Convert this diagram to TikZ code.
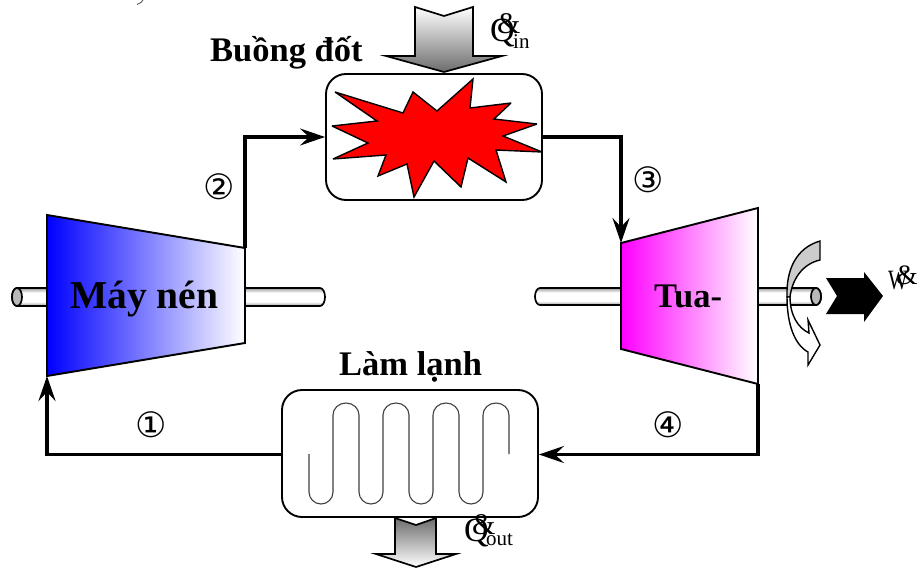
\documentclass[tikz,border=0pt]{standalone}
\usepackage{fontspec}
\setmainfont{Liberation Serif}
\newfontfamily\circfont{DejaVu Sans}
\usetikzlibrary{arrows.meta}
\pgfdeclareverticalshading{shaftshade}{100bp}{color(0bp)=(gray!80); color(25bp)=(gray!80); color(37bp)=(white); color(62bp)=(white); color(75bp)=(gray!80); color(100bp)=(gray!80)}
\tikzset{
  x=1pt,y=-1pt,
  body/.style={draw=black,line width=1.9pt,line join=miter},
  chamber/.style={draw=black,line width=1.9pt,rounded corners=20pt,inner sep=0pt,fill=white},
  flow/.style={draw=black,line width=3.4pt,line join=miter,-{Stealth[length=25pt,width=17pt,inset=9pt]}},
  shaftbar/.style={draw=black,line width=1.7pt,shading=shaftshade},
  shaftend/.style={draw=black,line width=1.7pt,fill=gray!55},
  heatarrow/.style={draw=black,line width=1.7pt,line join=miter},
  title/.style={inner sep=0pt,anchor=base west,font=\bfseries\fontsize{34.5}{40}\selectfont},
  circnum/.style={inner sep=0pt,font=\circfont\fontsize{35}{38}\selectfont},
  bigglyph/.style={inner sep=0pt,anchor=base west,font=\fontsize{34}{36}\selectfont},
  ampglyph/.style={inner sep=0pt,anchor=base west,font=\fontsize{30}{32}\selectfont},
  smallglyph/.style={inner sep=0pt,anchor=base west,font=\fontsize{28}{30}\selectfont},
  subtext/.style={inner sep=0pt,anchor=base west,font=\fontsize{21}{24}\selectfont},
}
\begin{document}
\begin{tikzpicture}
\useasboundingbox (0,0) rectangle (917,567);
% stray mark at the top edge
\draw[line width=0.8pt,black!70] (143,0) -- (141,2.5) -- (137,4.5);

% shafts
\draw[shaftbar] (47,288) -- (17,288) arc[start angle=90,end angle=270,x radius=5pt,y radius=9pt] -- (47,306) -- cycle;
\draw[shaftend] (17,297) ellipse[x radius=5pt,y radius=9pt];
\draw[shaftbar] (245,288) -- (320,288) arc[start angle=90,end angle=-90,x radius=5pt,y radius=9pt] -- (245,306) -- cycle;
\draw[shaftbar] (621,288) -- (540,288) arc[start angle=90,end angle=270,x radius=5pt,y radius=8.5pt] -- (621,305) -- cycle;
\draw[shaftbar] (758,288) -- (816,288) arc[start angle=90,end angle=-90,x radius=5pt,y radius=8.5pt] -- (758,305) -- cycle;
\draw[shaftend] (816,296.5) ellipse[x radius=5pt,y radius=8.5pt];

% compressor and turbine
\coordinate (compTL) at (47,215);
\coordinate (compTR) at (245,248);
\coordinate (compBR) at (245,343);
\coordinate (compBL) at (47,376);
\coordinate (turbTL) at (621,243);
\coordinate (turbTR) at (758,208);
\coordinate (turbBR) at (758,384);
\coordinate (turbBL) at (621,349);
\draw[body,left color=blue,middle color=blue!38,right color=white] (compTL) -- (compTR) -- (compBR) -- (compBL) -- cycle;
\draw[body,left color=magenta,middle color=magenta!20,right color=white] (turbTL) -- (turbTR) -- (turbBR) -- (turbBL) -- cycle;

% chambers
\node[chamber,minimum width=216pt,minimum height=126pt] (burner) at (434,137) {};
\node[chamber,minimum width=256pt,minimum height=127pt] (cooler) at (410,453.5) {};
\coordinate (coolW) at ([yshift=-1pt]cooler.west);
\coordinate (coolE) at ([yshift=-1pt]cooler.east);

% flame
\draw[draw=black,line width=1.4pt,fill=red,line join=miter,miter limit=3]
 (335,92) -- (403,113) -- (413,92) -- (437,111) -- (473,79) -- (470,108) -- (511,103) -- (494,119)
 -- (537,124) -- (503,136) -- (542,152) -- (496,150) -- (506,182) -- (468,158) -- (461,187) -- (434,161)
 -- (414,197) -- (407,164) -- (378,176) -- (386,155) -- (333,159) -- (368,143) -- (332,126) -- (377,121) -- cycle;

% serpentine
\draw[line width=1.1pt,black!75] (309,454) -- (309,492)
 arc[start angle=180,end angle=360,x radius=12pt,y radius=12pt] -- (333,415)
 arc[start angle=180,end angle=0,x radius=13pt,y radius=12pt] -- (359,492)
 arc[start angle=180,end angle=360,x radius=12pt,y radius=12pt] -- (383,415)
 arc[start angle=180,end angle=0,x radius=13pt,y radius=12pt] -- (409,492)
 arc[start angle=180,end angle=360,x radius=12pt,y radius=12pt] -- (433,415)
 arc[start angle=180,end angle=0,x radius=13pt,y radius=12pt] -- (459,492)
 arc[start angle=180,end angle=360,x radius=12pt,y radius=12pt] -- (483,415)
 arc[start angle=180,end angle=0,x radius=13pt,y radius=12pt] -- (509,454);

% flow connectors
\draw[flow] (coolW) -- (compBL |- coolW) -- (compBL);
\draw[flow] (compTR) -- (compTR |- burner.west) -- (burner.west);
\draw[flow] (burner.east) -- (turbTL |- burner.east) -- (turbTL);
\draw[flow] (turbBR) -- (turbBR |- coolE) -- (coolE);

% heat arrows
\draw[heatarrow,top color=white,bottom color=gray!85!black]
 (415,7) -- (444,16) -- (473,7) -- (473,56) -- (502,56) -- (444,72) -- (386,56) -- (415,56) -- cycle;
\draw[heatarrow,top color=gray!85!black,bottom color=white]
 (395,518) -- (416,525) -- (436,518) -- (436,554) -- (456,554) -- (416,567) -- (376,554) -- (395,554) -- cycle;

% work arrow
\fill[black] (826,278) -- (864,278) -- (864,272) -- (883,296) -- (864,322) -- (864,314) -- (826,314) -- (837,296) -- cycle;

% rotation arrow
\draw[line width=1.4pt,fill=gray!40] (820,241) -- (820,260) .. controls (802,264) and (792,280) .. (790,297)
 -- (787,297) .. controls (786,270) and (796,248) .. (820,241) -- cycle;
\draw[line width=1.4pt,fill=white,line join=miter] (787,297) .. controls (787,325) and (795,345) .. (808,352)
 -- (808,365) -- (820,345) -- (808,320) -- (809,333) .. controls (798,328) and (790,315) .. (790,297) -- cycle;

% labels
\node[title] (lburner) at (210,62) {Buồng đốt};
\node[title] (lcooler) at (339,375) {Làm lạnh};
\node[title,font=\bfseries\fontsize{39.5}{42}\selectfont] (lcomp) at (70,308) {Máy nén};
\node[title] (lturb) at (654,307) {Tua-};

\node[circnum] (n1) at (151,425) {①};
\node[circnum] (n2) at (219,187) {②};
\node[circnum] (n3) at (648,180) {③};
\node[circnum] (n4) at (668,425) {④};

\node[bigglyph] (qina) at (490,42) {Q};
\node[ampglyph] (qinb) at (497,34) {\&};
\node[subtext] (qinc) at (513,49) {in};
\node[bigglyph] (qouta) at (464,541) {Q};
\node[ampglyph] (qoutb) at (472,534) {\&};
\node[subtext] (qoutc) at (486,545) {out};
\node[smallglyph] (wa) at (888,289) {\scalebox{0.75}[1]{W}};
\node[smallglyph] (wb) at (896,284) {\&};
\end{tikzpicture}
\end{document}
